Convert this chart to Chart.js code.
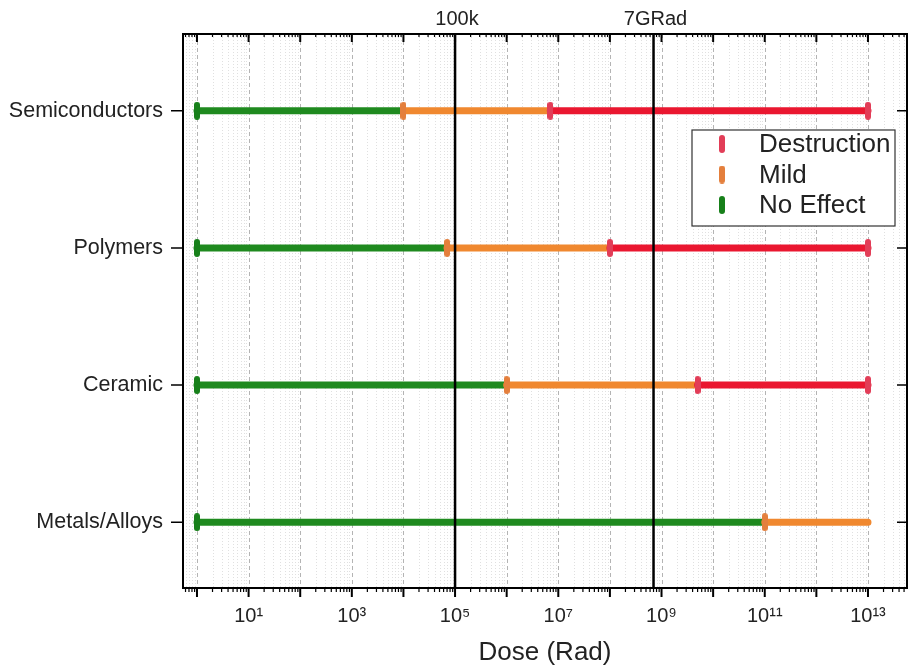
<!DOCTYPE html>
<html>
<head>
<meta charset="utf-8">
<title>Radiation dose tolerance by material</title>
<script src="https://cdn.jsdelivr.net/npm/chart.js@4.4.1/dist/chart.umd.min.js"></script>
<style>
  html, body { margin: 0; padding: 0; background: #fff; }
  #wrap { width: 908px; height: 671px; }
</style>
</head>
<body>
<div id="wrap"><canvas id="doseChart" width="908" height="671"></canvas></div>
<script>
// materials, top to bottom
const materials = ['Semiconductors', 'Polymers', 'Ceramic', 'Metals/Alloys'];

// dose ranges in Rad, [from, to] for each material
const noEffect = [[1, 1e4], [1, 7e4], [1, 1e6], [1, 1e11]];
const mild = [[1e4, 7e6], [7e4, 1e8], [1e6, 5e9], [1e11, 1e13]];
const destruction = [[7e6, 1e13], [1e8, 1e13], [5e9, 1e13], null];

// reference doses marked with vertical lines
const markerDoses = [1e5, 7e8];
const markerLabels = ['100k', '7GRad'];

// decades with a tick, and the ones that get a label
const decadeExponents = [0, 1, 2, 3, 4, 5, 6, 7, 8, 9, 10, 11, 12, 13];
const labelledExponents = [1, 3, 5, 7, 9, 11, 13];

const FONT = '"Liberation Sans", Arial, sans-serif';
Chart.defaults.font.family = FONT;

const SUP = { '0': '\u2070', '1': '\u00b9', '2': '\u00b2', '3': '\u00b3', '4': '\u2074',
  '5': '\u2075', '6': '\u2076', '7': '\u2077', '8': '\u2078', '9': '\u2079' };
function sup(n) {
  return String(n).split('').map(ch => SUP[ch]).join('');
}

// small rounded bar used as the end cap of each range
function capImage(color) {
  const c = document.createElement('canvas');
  const w = 6, h = 18, r = 3;
  c.width = w; c.height = h;
  const g = c.getContext('2d');
  g.fillStyle = color;
  g.beginPath();
  g.arc(r, r, r, Math.PI, 0);
  g.lineTo(w, h - r);
  g.arc(r, h - r, r, 0, Math.PI);
  g.closePath();
  g.fill();
  return c;
}

// each range becomes two points, followed by a gap so the segments don't join
function toPoints(ranges) {
  const pts = [];
  ranges.forEach((r, i) => {
    const y = materials.length - i;
    if (r) {
      pts.push({ x: r[0], y: y }, { x: r[1], y: y });
    } else {
      pts.push({ x: null, y: null }, { x: null, y: null });
    }
    pts.push({ x: null, y: null });
  });
  return pts;
}

function capRadius(withEnd) {
  return ctx => {
    const k = ctx.dataIndex % 3;
    return (k === 0 || (k === 1 && withEnd)) ? 4 : 0;
  };
}

const levels = [
  { label: 'Destruction', ranges: destruction, line: '#ea1730', cap: '#e23d57', endCap: true },
  { label: 'Mild', ranges: mild, line: '#f0882f', cap: '#e47f3c', endCap: false },
  { label: 'No Effect', ranges: noEffect, line: '#1f8a1f', cap: '#17801a', endCap: false }
];

const datasets = levels.map(lv => ({
  label: lv.label,
  data: toPoints(lv.ranges),
  borderColor: lv.line,
  backgroundColor: lv.cap,
  borderWidth: 7,
  borderCapStyle: 'round',
  tension: 0,
  fill: false,
  spanGaps: false,
  pointStyle: capImage(lv.cap),
  pointRadius: capRadius(lv.endCap),
  pointHoverRadius: capRadius(lv.endCap)
}));

const decor = {
  id: 'decor',
  beforeDatasetsDraw(chart) {
    const { ctx, chartArea: a, scales: { x } } = chart;
    ctx.save();
    ctx.lineWidth = 1;
    // minor dotted lines at 2..9 of every decade, dashed lines at the decades
    for (let e = -1; e <= 13; e++) {
      for (let k = 1; k <= 9; k++) {
        const v = k * Math.pow(10, e);
        if (v < x.min || v > x.max) continue;
        const px = Math.round(x.getPixelForValue(v)) + 0.5;
        if (k === 1) {
          ctx.strokeStyle = '#b4b4b4';
          ctx.setLineDash([4, 3]);
        } else {
          ctx.strokeStyle = '#e0e0e0';
          ctx.setLineDash([1, 2]);
        }
        ctx.beginPath();
        ctx.moveTo(px, a.top);
        ctx.lineTo(px, a.bottom);
        ctx.stroke();
      }
    }
    ctx.restore();
  },
  afterDatasetsDraw(chart) {
    const { ctx, chartArea: a, scales: { x, y } } = chart;
    ctx.save();

    // reference dose lines and their labels
    ctx.strokeStyle = '#000';
    ctx.lineWidth = 2.5;
    ctx.fillStyle = '#222';
    ctx.font = '20px ' + FONT;
    ctx.textAlign = 'center';
    ctx.textBaseline = 'middle';
    markerDoses.forEach((d, i) => {
      const px = x.getPixelForValue(d);
      ctx.beginPath();
      ctx.moveTo(px, a.top);
      ctx.lineTo(px, a.bottom);
      ctx.stroke();
      ctx.fillText(markerLabels[i], px + 2, 19);
    });

    // frame
    ctx.lineWidth = 2;
    ctx.strokeRect(a.left, a.top, a.right - a.left, a.bottom - a.top);

    // tick marks on bottom and top axes
    for (let e = -1; e <= 13; e++) {
      for (let k = 1; k <= 9; k++) {
        const v = k * Math.pow(10, e);
        if (v < x.min || v > x.max) continue;
        const px = x.getPixelForValue(v);
        const len = k === 1 ? 9 : 4;
        ctx.lineWidth = k === 1 ? 2 : 1.2;
        ctx.beginPath();
        ctx.moveTo(px, a.bottom);
        ctx.lineTo(px, a.bottom + len);
        ctx.moveTo(px, a.top);
        ctx.lineTo(px, a.top + len - 1);
        ctx.stroke();
      }
    }

    // category ticks on left and right axes
    ctx.lineWidth = 1.5;
    materials.forEach((m, i) => {
      const py = y.getPixelForValue(materials.length - i);
      ctx.beginPath();
      ctx.moveTo(a.left - 12, py);
      ctx.lineTo(a.left, py);
      ctx.moveTo(a.right - 10, py);
      ctx.lineTo(a.right, py);
      ctx.stroke();
    });

    // legend box
    const lx = a.right - 215, ly = a.top + 96, lw = 203, lh = 96;
    ctx.fillStyle = '#fff';
    ctx.fillRect(lx, ly, lw, lh);
    ctx.strokeStyle = '#333';
    ctx.lineWidth = 1.2;
    ctx.strokeRect(lx, ly, lw, lh);
    ctx.font = '26px ' + FONT;
    ctx.textAlign = 'left';
    ctx.textBaseline = 'middle';
    chart.data.datasets.forEach((ds, i) => {
      const cy = ly + 14 + i * 30.5;
      const img = ds.pointStyle;
      ctx.drawImage(img, lx + 30 - img.width / 2, cy - img.height / 2);
      ctx.fillStyle = '#222';
      ctx.fillText(ds.label, lx + 67, cy + 1);
    });

    ctx.restore();
  }
};

new Chart(document.getElementById('doseChart'), {
  type: 'line',
  data: { datasets: datasets },
  options: {
    responsive: false,
    animation: false,
    events: [],
    layout: { autoPadding: false, padding: { top: 34, right: 1, left: 0, bottom: 0 } },
    plugins: {
      legend: { display: false },
      tooltip: { enabled: false }
    },
    scales: {
      x: {
        type: 'logarithmic',
        position: 'bottom',
        min: 0.536,
        max: 5.7e13,
        afterBuildTicks: scale => {
          scale.ticks = decadeExponents.map(e => ({ value: Math.pow(10, e), major: true }));
        },
        afterFit: scale => {
          scale.height = 83;
          scale.paddingLeft = 0;
          scale.paddingRight = 0;
        },
        grid: { display: false, drawTicks: false },
        border: { display: false },
        ticks: {
          autoSkip: false,
          maxRotation: 0,
          padding: 16,
          color: '#222',
          font: { size: 20 },
          callback: value => {
            const e = Math.round(Math.log10(value));
            return labelledExponents.includes(e) ? '10' + sup(e) : '';
          }
        },
        title: {
          display: true,
          text: 'Dose (Rad)',
          color: '#222',
          font: { size: 26 },
          padding: { top: 0, bottom: 3 }
        }
      },
      y: {
        type: 'linear',
        min: 0.52,
        max: 4.56,
        afterBuildTicks: scale => {
          scale.ticks = materials.map((m, i) => ({ value: materials.length - i }));
        },
        afterFit: scale => {
          scale.width = 183;
          scale.paddingTop = 0;
          scale.paddingBottom = 0;
        },
        grid: { display: false, drawTicks: false },
        border: { display: false },
        ticks: {
          padding: 20,
          color: '#222',
          font: { size: 21.5 },
          callback: value => materials[materials.length - value]
        }
      }
    }
  },
  plugins: [decor]
});
</script>
</body>
</html>
